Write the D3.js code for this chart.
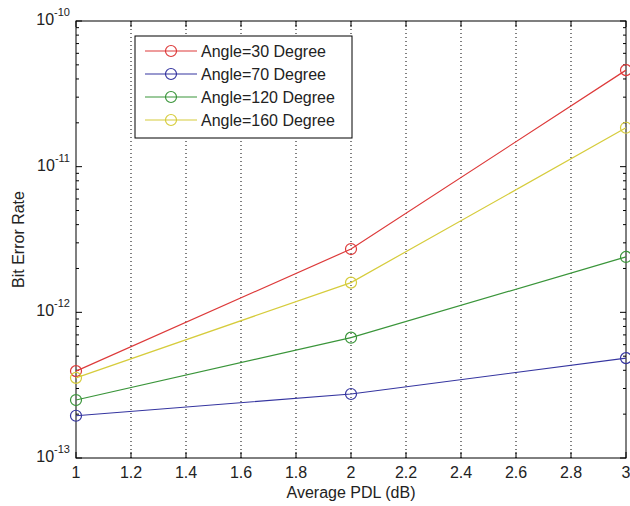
<!DOCTYPE html>
<meta charset="utf-8">
<style>
body { margin: 0; background: #fff; }
text { font-family: "Liberation Sans", Arial, sans-serif; fill: #222; }
.grid line { stroke: #000; stroke-dasharray: 1,3; stroke-width: 1; }
</style>
<body>
<svg width="630" height="506"></svg>
<script src="https://d3js.org/d3.v7.min.js"></script>
<script>
// data
var pdl = [1, 2, 3];
var names = ["Angle=30 Degree", "Angle=70 Degree", "Angle=120 Degree", "Angle=160 Degree"];
var ber30  = [3.95e-13, 2.72e-12, 4.6e-11];
var ber70  = [1.95e-13, 2.75e-13, 4.85e-13];
var ber120 = [2.5e-13, 6.7e-13, 2.4e-12];
var ber160 = [3.55e-13, 1.6e-12, 1.85e-11];
var colors = ["#dd3a3a", "#3535a0", "#3a953a", "#d6cc3c"];
var xTicks = [1, 1.2, 1.4, 1.6, 1.8, 2, 2.2, 2.4, 2.6, 2.8, 3];
var yDecades = [-13, -12, -11, -10];

var series = [ber30, ber70, ber120, ber160];

var svg = d3.select("svg"),
    pL = 76, pR = 626, pT = 21, pB = 458;

var x = d3.scaleLinear().domain([1, 3]).range([pL, pR]);
var y = d3.scaleLog().domain([1e-13, 1e-10]).range([pB, pT]);

// dotted vertical grid
svg.append("g").attr("class", "grid")
  .selectAll("line")
  .data(xTicks.slice(1, -1))
  .enter().append("line")
    .attr("x1", d => x(d)).attr("x2", d => x(d))
    .attr("y1", pT).attr("y2", pB);

// minor + major y ticks (inward, both sides)
var minor = [];
yDecades.slice(0, -1).forEach(function(e) {
  for (var k = 2; k <= 9; k++) minor.push(k * Math.pow(10, e));
});
var tk = svg.append("g").attr("stroke", "#000").attr("stroke-width", 1);
minor.forEach(function(v) {
  tk.append("line").attr("x1", pL).attr("x2", pL + 3).attr("y1", y(v)).attr("y2", y(v));
  tk.append("line").attr("x1", pR).attr("x2", pR - 3).attr("y1", y(v)).attr("y2", y(v));
});
yDecades.forEach(function(e) {
  var v = Math.pow(10, e);
  tk.append("line").attr("x1", pL).attr("x2", pL + 6).attr("y1", y(v)).attr("y2", y(v));
  tk.append("line").attr("x1", pR).attr("x2", pR - 6).attr("y1", y(v)).attr("y2", y(v));
});
xTicks.forEach(function(v) {
  tk.append("line").attr("x1", x(v)).attr("x2", x(v)).attr("y1", pB).attr("y2", pB - 6);
  tk.append("line").attr("x1", x(v)).attr("x2", x(v)).attr("y1", pT).attr("y2", pT + 6);
});

// frame
svg.append("rect")
  .attr("x", pL).attr("y", pT)
  .attr("width", pR - pL).attr("height", pB - pT)
  .attr("fill", "none").attr("stroke", "#000").attr("stroke-width", 1);

// x tick labels
svg.append("g").selectAll("text")
  .data(xTicks)
  .enter().append("text")
    .attr("x", d => x(d)).attr("y", pB + 20)
    .attr("text-anchor", "middle")
    .attr("font-size", 16)
    .text(d => d3.format("~g")(d));

// y tick labels 10^e
yDecades.forEach(function(e) {
  var t = svg.append("text")
    .attr("x", pL - 6).attr("y", y(Math.pow(10, e)) + 4)
    .attr("text-anchor", "end")
    .attr("font-size", 16);
  t.append("tspan").text("10");
  t.append("tspan").attr("font-size", 11).attr("dy", -9).text(e);
});

// axis titles
svg.append("text")
  .attr("x", (pL + pR) / 2).attr("y", 498)
  .attr("text-anchor", "middle").attr("font-size", 16)
  .text("Average PDL (dB)");
svg.append("text")
  .attr("transform", "translate(24," + ((pT + pB) / 2) + ") rotate(-90)")
  .attr("text-anchor", "middle").attr("font-size", 16)
  .text("Bit Error Rate");

// lines and markers
var line = d3.line().x((d, i) => x(pdl[i])).y(d => y(d));
series.forEach(function(s, j) {
  svg.append("path")
    .attr("d", line(s))
    .attr("fill", "none").attr("stroke", colors[j]).attr("stroke-width", 1.2);
  svg.append("g").selectAll("circle")
    .data(s)
    .enter().append("circle")
      .attr("cx", (d, i) => x(pdl[i])).attr("cy", d => y(d))
      .attr("r", 5.5)
      .attr("fill", "none").attr("stroke", colors[j]).attr("stroke-width", 1.2);
});

// legend
var lg = svg.append("g").attr("transform", "translate(135,36)");
lg.append("rect").attr("width", 217).attr("height", 102)
  .attr("fill", "#fff").attr("stroke", "#000").attr("stroke-width", 1);
names.forEach(function(n, j) {
  var yy = 15 + j * 23;
  lg.append("line").attr("x1", 10).attr("x2", 62).attr("y1", yy).attr("y2", yy)
    .attr("stroke", colors[j]).attr("stroke-width", 1.2);
  lg.append("circle").attr("cx", 36).attr("cy", yy).attr("r", 5.5)
    .attr("fill", "none").attr("stroke", colors[j]).attr("stroke-width", 1.2);
  lg.append("text").attr("x", 66).attr("y", yy + 6).attr("font-size", 16).text(n);
});
</script>
</body>
